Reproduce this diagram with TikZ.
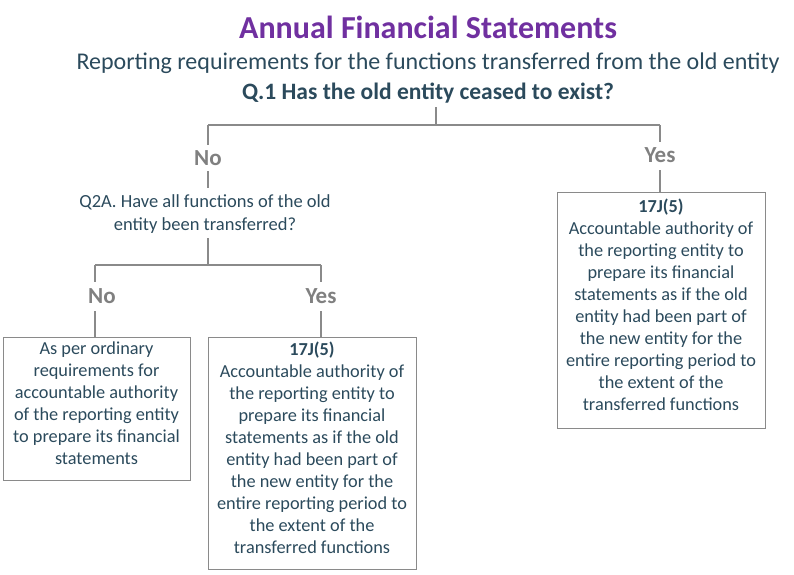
\documentclass[tikz,border=0pt]{standalone}
\usepackage{fontspec}
\setmainfont{Carlito}
\definecolor{ttl}{HTML}{7030A0}
\definecolor{txt}{HTML}{2B4A5C}
\definecolor{ln}{HTML}{8A8A8A}
\definecolor{lbl}{HTML}{808080}
\begin{document}
\begin{tikzpicture}[x=1pt,y=-1pt,
  lnk/.style={draw=ln,line width=1.5pt},
  lab/.style={text=lbl,font=\fontsize{23}{26}\selectfont\bfseries,inner sep=1pt},
  bx/.style={draw=ln,line width=0.8pt},
  bt/.style={text=txt,font=\fontsize{18.3}{22}\selectfont,align=center,anchor=north,inner sep=0pt},
  hd/.style={text=txt,inner sep=0pt}]
\useasboundingbox (0,0) rectangle (794,574);
\node[text=ttl,font=\fontsize{32}{36}\selectfont\bfseries] (t) at (428,27) {Annual Financial Statements};
\node[hd,font=\fontsize{24}{28}\selectfont] (s) at (428,63) {Reporting requirements for the functions transferred from the old entity};
\node[hd,font=\fontsize{23.5}{28}\selectfont\bfseries] (q1) at (428,93) {Q.1 Has the old entity ceased to exist?};
\coordinate (j1) at (436,125);
\coordinate (q1b) at (436,107);
\coordinate (jl) at (208,125);
\coordinate (jr) at (660,125);
\node[lab] (no1) at (208,158) {No};
\node[lab] (yes1) at (660,155) {Yes};
\draw[lnk] (q1b) -- (j1);
\draw[lnk] (jl) -- (jr);
\draw[lnk] (jl) -- (208,145);
\draw[lnk] (jr) -- (660,142);
\node[hd,font=\fontsize{18.5}{23}\selectfont,align=center] (q2) at (205,214) {Q2A. Have all functions of the old\\entity been transferred?};
\draw[lnk] (208,171) -- (208,188);
\coordinate (k1) at (208,265);
\coordinate (kl) at (95,265);
\coordinate (kr) at (321,265);
\draw[lnk] (208,238) -- (k1);
\draw[lnk] (kl) -- (kr);
\node[lab] (no2) at (102,296) {No};
\node[lab] (yes2) at (321,296) {Yes};
\draw[lnk] (kl) -- (95,282);
\draw[lnk] (kr) -- (321,282);
\draw[bx] (3,337) rectangle (190,480);
\draw[bx] (208,337) rectangle (416,569);
\draw[bx] (557,192) rectangle (765,428);
\coordinate (b1t) at (95,337);
\coordinate (b2t) at (321,337);
\coordinate (b3t) at (660,192);
\node[bt] (b1) at (96.5,342) {As per ordinary\\requirements for\\accountable authority\\of the reporting entity\\to prepare its financial\\statements};
\node[bt] (b2) at (312,342) {\textbf{17J(5)}\\Accountable authority of\\the reporting entity to\\prepare its financial\\statements as if the old\\entity had been part of\\the new entity for the\\entire reporting period to\\the extent of the\\transferred functions};
\node[bt] (b3) at (661,199) {\textbf{17J(5)}\\Accountable authority of\\the reporting entity to\\prepare its financial\\statements as if the old\\entity had been part of\\the new entity for the\\entire reporting period to\\the extent of the\\transferred functions};
\draw[lnk] (95,311) -- (b1t);
\draw[lnk] (321,311) -- (b2t);
\draw[lnk] (660,170) -- (b3t);
\end{tikzpicture}
\end{document}
